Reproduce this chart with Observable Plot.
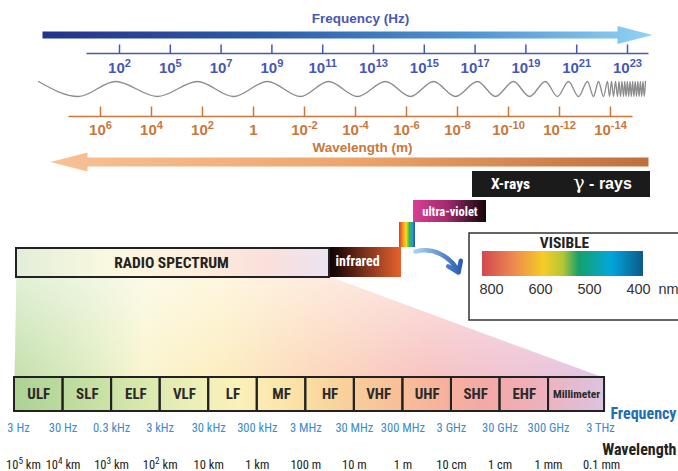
<!DOCTYPE html>
<html><head><meta charset="utf-8">
<script src="https://cdn.jsdelivr.net/npm/d3@7"></script>
<script src="https://cdn.jsdelivr.net/npm/@observablehq/plot@0.6"></script>
<style>html,body{margin:0;padding:0;background:#fff;overflow:hidden}</style>
</head><body><div id="chart"></div>
<script>
// ---------------- DATA ----------------
const frequencyTickLabels = ["10²","10⁵","10⁷","10⁹","10¹¹","10¹³","10¹⁵","10¹⁷","10¹⁹","10²¹","10²³"];
const wavelengthTickLabels = ["10⁶","10⁴","10²","1","10⁻²","10⁻⁴","10⁻⁶","10⁻⁸","10⁻¹⁰","10⁻¹²","10⁻¹⁴"];
// x of successive crests/troughs of the drawn wave (alternating, starting with a crest)
const waveExtremaX = [38,78,115,157,197,233,267,300,328,357,385,410,433,455,477,495,513,529,545,557,568,578,587,593,598,603,607,
  609,611,613,615,617,618.5,620,621.5,623,624.3,625.6,626.9,628.2,629.5,630.8,632.1,633.4,634.7,636,637.3,638.6,639.9,641.2,642.5,643.8,645];
const spectrumRegions = ["RADIO SPECTRUM","infrared","ultra-violet","X-rays","γ - rays"];
const visibleTitle = "VISIBLE";
const visibleLabels = ["800","600","500","400"];
const visibleUnit = "nm";
const radioBands = ["ULF","SLF","ELF","VLF","LF","MF","HF","VHF","UHF","SHF","EHF","Millimeter"];
const bandFrequencyLabels = ["3 Hz","30 Hz","0.3 kHz","3 kHz","30 kHz","300 kHz","3 MHz","30 MHz","300 MHz","3 GHz","30 GHz","300 GHz","3 THz"];
const bandWavelengthLabels = ["10⁵ km","10⁴ km","10³ km","10² km","10 km","1 km","100 m","10 m","1 m","10 cm","1 cm","1 mm","0.1 mm"];
const axisTitles = {frequency:"Frequency (Hz)", wavelength:"Wavelength (m)", bandFrequency:"Frequency", bandWavelength:"Wavelength"};

// ---------------- LAYOUT ----------------
const W = 678, H = 471;
const COND = "'Roboto Condensed',Roboto,sans-serif";
const SANS = "'Liberation Sans',Arial,Helvetica,sans-serif";
const L = {
  freqAxis:{x0:119, step:50.8, y:53, tick:9, x1:86, x2:648, labelY:67.5, color:"#4658b4"},
  lenAxis:{x0:100, step:51, y:116, tick:10, x1:68, x2:632, labelY:129.5, color:"#c8783c"},
  wave:{crest:81, trough:96},
  blueArrow:{x0:42, xh:617, tip:652, yc:34.5, half:3.6, head:9},
  orangeArrow:{tip:50, xh:87, x1:648, yc:161.5, half:4.6, head:9.5},
  boxes:{
    "RADIO SPECTRUM":{x1:16,x2:329,y1:248,y2:277},
    "infrared":{x1:329,x2:401,y1:247,y2:277},
    "ultra-violet":{x1:413,x2:486,y1:200,y2:222},
    "xg":{x1:472,x2:650,y1:171,y2:197}
  },
  rainbow:{x1:399,x2:415,y1:222,y2:247},
  fan:{tl:16, tr:331, top:277, bl:14, br:603, bottom:377},
  bands:{x0:14, step:48.55, lastW:56, y1:377, y2:411},
  visible:{x1:469, x2:682, y1:233, y2:320, barX1:482, barX2:643, barY1:251, barY2:276, lx0:491, lstep:49, ly:288.5, unitX:668},
};

// helpers derived from layout
const fTicks = frequencyTickLabels.map((label,i)=>({label, x:L.freqAxis.x0 + i*L.freqAxis.step}));
const wTicks = wavelengthTickLabels.map((label,i)=>({label, x:L.lenAxis.x0 + i*L.lenAxis.step}));
const wave = waveExtremaX.map((x,i)=>({x, y: i%2===0 ? L.wave.crest : L.wave.trough}));
const b = L.bands;
const bandEdge = i => i <= 11 ? b.x0 + i*b.step : b.x0 + 11*b.step + b.lastW;
const bandRects = radioBands.map((name,i)=>({name, x1:bandEdge(i), x2:bandEdge(i+1)}));
const edgeLabels = (labels, firstShift, lastShift) => labels.map((label,i)=>({label,
  x: bandEdge(i) + (i===0 ? firstShift : i===labels.length-1 ? lastShift : 0)}));
const fLabels = edgeLabels(bandFrequencyLabels, 4, -4);
const wlLabels = edgeLabels(bandWavelengthLabels, 9, -3);

const ba = L.blueArrow;
const blueArrowPoly = [[ba.x0,ba.yc-ba.half],[ba.xh,ba.yc-ba.half],[ba.xh,ba.yc-ba.head],[ba.tip,ba.yc],[ba.xh,ba.yc+ba.head],[ba.xh,ba.yc+ba.half],[ba.x0,ba.yc+ba.half]];
const oa = L.orangeArrow;
const orangeArrowPoly = [[oa.x1,oa.yc-oa.half],[oa.xh,oa.yc-oa.half],[oa.xh,oa.yc-oa.head],[oa.tip,oa.yc],[oa.xh,oa.yc+oa.head],[oa.xh,oa.yc+oa.half],[oa.x1,oa.yc+oa.half]];
const f = L.fan;
const fanPoly = [[f.tl,f.top],[f.tr,f.top],[f.br,f.bottom],[f.bl,f.bottom]];
const poly = (pts) => pts.map(([x,y])=>({x,y}));

const boxes = Object.entries(L.boxes).map(([k,v])=>({k,...v}));
const v = L.visible;
const visTicks = visibleLabels.map((label,i)=>({label, x:v.lx0 + i*v.lstep}));

const chart = Plot.plot({
  width:W, height:H, margin:0,
  x:{domain:[0,W], range:[0,W], axis:null},
  y:{domain:[0,H], range:[0,H], axis:null},
  style:{background:"#fff", fontFamily:SANS},
  marks:[
    // pastel fan under the radio spectrum
    Plot.line(poly(fanPoly), {x:"x", y:"y", fill:"url(#gFan)", stroke:"none"}),
    Plot.line(poly(fanPoly), {x:"x", y:"y", fill:"url(#gFanFade)", stroke:"none"}),
    // frequency arrow + axis
    Plot.line(poly(blueArrowPoly), {x:"x", y:"y", fill:"url(#gBlue)", stroke:"none"}),
    Plot.text([axisTitles.frequency], {x:()=>360, y:()=>18.5, text:d=>d, fill:L.freqAxis.color, fontWeight:"bold", fontSize:13.5, fontFamily:SANS}),
    Plot.link([0], {x1:()=>L.freqAxis.x1, x2:()=>L.freqAxis.x2, y1:()=>L.freqAxis.y, y2:()=>L.freqAxis.y, stroke:L.freqAxis.color, strokeWidth:1.5}),
    Plot.link(fTicks, {x1:"x", x2:"x", y1:()=>L.freqAxis.y-L.freqAxis.tick, y2:()=>L.freqAxis.y, stroke:L.freqAxis.color, strokeWidth:1.5}),
    Plot.text(fTicks, {x:"x", y:()=>L.freqAxis.labelY, text:"label", fill:L.freqAxis.color, fontWeight:"bold", fontSize:15, fontFamily:SANS}),
    // wave
    Plot.line(wave, {x:"x", y:"y", curve:"monotone-x", stroke:"#8c8c8c", strokeWidth:1.3}),
    // wavelength axis + arrow
    Plot.link([0], {x1:()=>L.lenAxis.x1, x2:()=>L.lenAxis.x2, y1:()=>L.lenAxis.y, y2:()=>L.lenAxis.y, stroke:L.lenAxis.color, strokeWidth:1.5}),
    Plot.link(wTicks, {x1:"x", x2:"x", y1:()=>L.lenAxis.y-L.lenAxis.tick, y2:()=>L.lenAxis.y, stroke:L.lenAxis.color, strokeWidth:1.5}),
    Plot.text(wTicks, {x:"x", y:()=>L.lenAxis.labelY, text:"label", fill:L.lenAxis.color, fontWeight:"bold", fontSize:15, fontFamily:SANS}),
    Plot.text([axisTitles.wavelength], {x:()=>362, y:()=>147.5, text:d=>d, fill:L.lenAxis.color, fontWeight:"bold", fontSize:13.5, fontFamily:SANS}),
    Plot.line(poly(orangeArrowPoly), {x:"x", y:"y", fill:"url(#gOrange)", stroke:"none"}),
    // region boxes
    Plot.rect(boxes.filter(d=>d.k==="xg"), {x1:"x1",x2:"x2",y1:"y1",y2:"y2", fill:"#1b1b1b"}),
    Plot.rect(boxes.filter(d=>d.k==="ultra-violet"), {x1:"x1",x2:"x2",y1:"y1",y2:"y2", fill:"url(#gUV)"}),
    Plot.rect([L.rainbow], {x1:"x1",x2:"x2",y1:"y1",y2:"y2", fill:"url(#gRainbow)"}),
    Plot.rect(boxes.filter(d=>d.k==="infrared"), {x1:"x1",x2:"x2",y1:"y1",y2:"y2", fill:"url(#gIR)"}),
    Plot.rect(boxes.filter(d=>d.k==="RADIO SPECTRUM"), {x1:"x1",x2:"x2",y1:"y1",y2:"y2", fill:"url(#gRadio)", stroke:"#222", strokeWidth:2}),
    Plot.text([spectrumRegions[0]], {x:()=>171, y:()=>262.5, text:d=>d, fontFamily:COND, fontWeight:"bold", fontSize:15.5, fill:"#222"}),
    Plot.text([spectrumRegions[1]], {x:()=>335, y:()=>261.5, text:d=>d, textAnchor:"start", fontFamily:COND, fontWeight:"bold", fontSize:14, fill:"#fff"}),
    Plot.text([spectrumRegions[2]], {x:()=>449.5, y:()=>211, text:d=>d, fontFamily:COND, fontWeight:"bold", fontSize:12.5, fill:"#fff"}),
    Plot.text([spectrumRegions[3]], {x:()=>510, y:()=>183.5, text:d=>d, fontFamily:COND, fontWeight:"bold", fontSize:15.5, fill:"#fff"}),
    Plot.text([spectrumRegions[4]], {x:()=>602, y:()=>183.5, text:d=>d, fontFamily:SANS, fontWeight:"bold", fontSize:16, fill:"#fff"}),
    // curved arrow to visible inset
    Plot.arrow([0], {x1:()=>415, y1:()=>251, x2:()=>458, y2:()=>272, bend:40, stroke:"url(#gCurve)", strokeWidth:4.5, headLength:4, headAngle:70}),
    // visible inset
    Plot.rect([v], {x1:"x1",x2:"x2",y1:"y1",y2:"y2", fill:"#fff", stroke:"#333", strokeWidth:1.5}),
    Plot.rect([v], {x1:"barX1",x2:"barX2",y1:"barY1",y2:"barY2", fill:"url(#gVisible)"}),
    Plot.text([visibleTitle], {x:()=>564, y:()=>243, text:d=>d, fontFamily:COND, fontWeight:"bold", fontSize:15.5, fill:"#222"}),
    Plot.text(visTicks, {x:"x", y:()=>v.ly, text:"label", fontFamily:SANS, fontSize:14.5, fill:"#333"}),
    Plot.text([visibleUnit], {x:()=>v.unitX, y:()=>v.ly, text:d=>d, fontFamily:SANS, fontSize:14.5, fill:"#333"}),
    // radio bands
    Plot.rect([0], {x1:()=>bandEdge(0), x2:()=>bandEdge(12), y1:()=>b.y1, y2:()=>b.y2, fill:"url(#gBands)"}),
    Plot.rect(bandRects, {x1:"x1", x2:"x2", y1:()=>b.y1, y2:()=>b.y2, fill:"none", stroke:"#222", strokeWidth:2}),
    Plot.text(bandRects, {x:d=>(d.x1+d.x2)/2, y:()=>(b.y1+b.y2)/2, text:"name", fontFamily:COND, fontWeight:"bold",
      fontSize:d=>d.name.length>5?11.5:15, fill:"#2a2a2a"}),
    Plot.text([axisTitles.bandFrequency], {x:()=>676, y:()=>413.5, text:d=>d, textAnchor:"end", fontFamily:COND, fontWeight:"bold", fontSize:16, fill:"#1f6db5"}),
    Plot.text(fLabels, {x:"x", y:()=>427.5, text:"label", fontFamily:COND, fontSize:12.5, fill:"#3a8ccc"}),
    Plot.text([axisTitles.bandWavelength], {x:()=>676, y:()=>449, text:d=>d, textAnchor:"end", fontFamily:COND, fontWeight:"bold", fontSize:16, fill:"#222"}),
    Plot.text(wlLabels, {x:"x", y:()=>464.5, text:"label", fontFamily:COND, fontSize:12.5, fill:"#222"}),
  ]
});

// gradient definitions
const defs = d3.select(chart).insert("defs", ":first-child");
function grad(id, stops, vertical=false){
  const g = defs.append("linearGradient").attr("id", id).attr("x1",0).attr("y1",0).attr("x2",vertical?0:1).attr("y2",vertical?1:0);
  stops.forEach(([o,c,op])=>g.append("stop").attr("offset",o).attr("stop-color",c).attr("stop-opacity",op===undefined?1:op));
}
grad("gBlue",[[0,"#26328a"],[0.35,"#2b5aa9"],[0.7,"#4d94d2"],[1,"#92d2f3"]]);
grad("gOrange",[[0,"#f7c196"],[0.5,"#eea56d"],[1,"#bf6f3b"]]);
grad("gUV",[[0,"#d93e93"],[0.45,"#a52c70"],[0.85,"#3a0f25"],[1,"#140608"]]);
grad("gRainbow",[[0,"#e0382a"],[0.25,"#f39a1f"],[0.45,"#f2df1e"],[0.65,"#3bb54a"],[0.85,"#1e9ad6"],[1,"#2b49a0"]]);
grad("gIR",[[0,"#100403"],[0.1,"#1e0906"],[0.5,"#7c311b"],[1,"#e6622e"]]);
grad("gRadio",[[0,"#e2eed8"],[0.3,"#fbf8e0"],[0.55,"#fdf0dc"],[0.8,"#fbdfdb"],[1,"#ebe4f1"]]);
grad("gFan",[[0,"#c4e0ad"],[0.12,"#ddecc1"],[0.22,"#f9f5d0"],[0.35,"#fdeec0"],[0.52,"#fcd8bd"],[0.7,"#f8c4c3"],[0.88,"#edc4d8"],[1,"#dfc8e4"]]);
grad("gFanFade",[[0,"#ffffff",0.5],[1,"#ffffff",0]], true);
grad("gBands",[[0,"#acd296"],[0.1,"#bfdc9f"],[0.2,"#d5e6ab"],[0.3,"#ebefb6"],[0.38,"#fbf1ba"],[0.48,"#fbe1a6"],[0.56,"#f9d09b"],[0.64,"#f8c198"],[0.72,"#f6b39c"],[0.8,"#f4a9a6"],[0.88,"#f0afb8"],[1,"#dcc3e0"]]);
grad("gVisible",[[0,"#d1474f"],[0.2,"#ee8a4f"],[0.38,"#f6cc26"],[0.5,"#b6c636"],[0.6,"#16a06a"],[0.8,"#02a6de"],[1,"#0c5a88"]]);
grad("gCurve",[[0,"#a8d2f2"],[1,"#2c5cb6"]]);

document.getElementById("chart").appendChild(chart);

// typographic touches: real superscripts and a proper gamma
const SUP = "⁰¹²³⁴⁵⁶⁷⁸⁹⁻", NORM = "0123456789-";
const unsup = s => [...s].map(c => NORM[SUP.indexOf(c)]).join("");
d3.select(chart).selectAll("text").each(function(){
  const s = this.textContent;
  const m = s.match(/^([^⁰¹²³⁴⁵⁶⁷⁸⁹⁻]*)([⁰¹²³⁴⁵⁶⁷⁸⁹⁻]+)(.*)$/);
  const fs = parseFloat(getComputedStyle(this).fontSize);
  if (m) {
    const sel = d3.select(this).text(null);
    sel.append("tspan").text(m[1]);
    sel.append("tspan").attr("dy", -0.38*fs).attr("font-size", 0.74*fs).text(unsup(m[2]));
    if (m[3]) sel.append("tspan").attr("dy", 0.38*fs).text(m[3]);
  } else if (s.startsWith("γ")) {
    const sel = d3.select(this).text(null);
    sel.append("tspan").attr("font-family","'DejaVu Serif',serif").attr("font-weight","normal").attr("font-size", 1.2*fs).text("γ");
    sel.append("tspan").text(s.slice(1));
  }
});
</script></body></html>
